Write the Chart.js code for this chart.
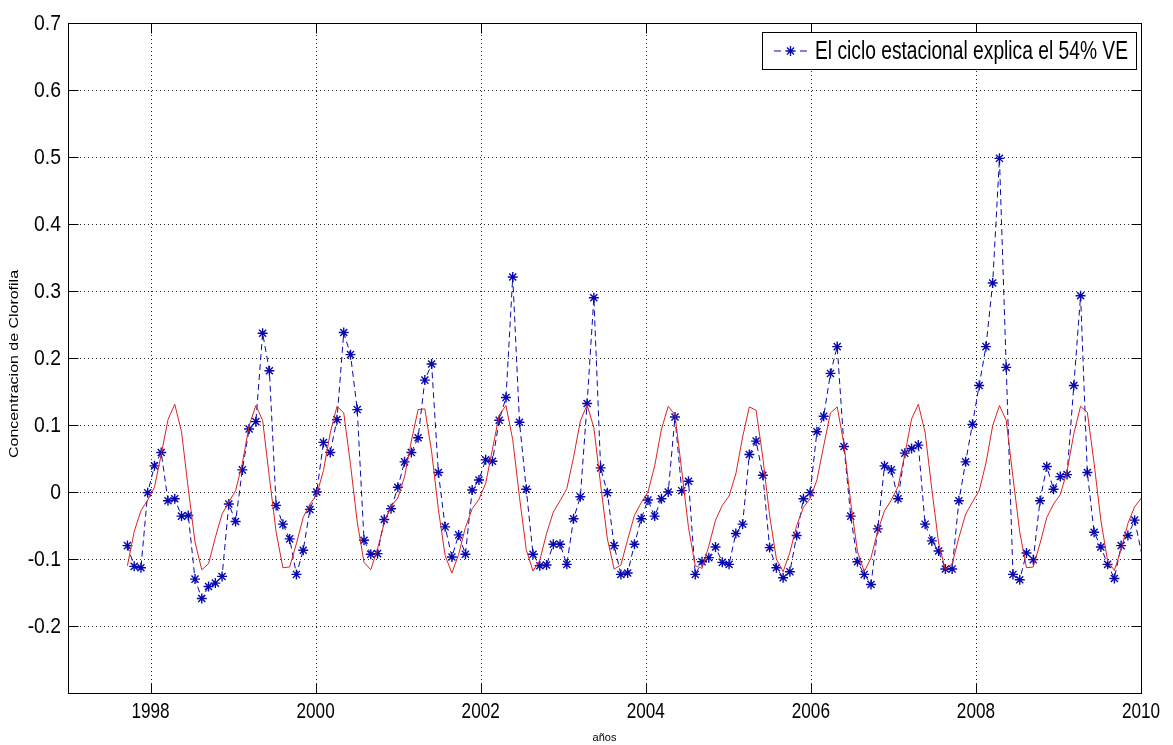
<!DOCTYPE html>
<html>
<head>
<meta charset="utf-8">
<script src="https://cdn.jsdelivr.net/npm/chart.js@4.4.0/dist/chart.umd.min.js"></script>
<style>
  html, body { margin: 0; padding: 0; background: #fff; }
</style>
</head>
<body>
<canvas id="chart" width="1173" height="745"></canvas>
<script>
// anomalia de clorofila (muestras ~mensuales desde sep-1997)
const clorofila = [
  -0.080, -0.111, -0.113, -0.001, 0.039, 0.059, -0.013, -0.010, -0.036, -0.035,
  -0.130, -0.159, -0.141, -0.136, -0.126, -0.018, -0.044, 0.033, 0.094, 0.105,
  0.237, 0.181, -0.020, -0.048, -0.070, -0.123, -0.087, -0.026, 0.000, 0.074,
  0.059, 0.108, 0.238, 0.205, 0.123, -0.072, -0.093, -0.092, -0.041, -0.025,
  0.007, 0.045, 0.059, 0.081, 0.167, 0.191, 0.029, -0.052, -0.097, -0.064,
  -0.093, 0.003, 0.018, 0.048, 0.046, 0.107, 0.141, 0.321, 0.104, 0.004,
  -0.093, -0.110, -0.109, -0.078, -0.078, -0.108, -0.040, -0.007, 0.132, 0.290,
  0.036, -0.001, -0.080, -0.123, -0.121, -0.078, -0.040, -0.012, -0.036, -0.010,
  0.000, 0.112, 0.002, 0.016, -0.123, -0.104, -0.098, -0.082, -0.105, -0.108,
  -0.062, -0.048, 0.056, 0.076, 0.025, -0.083, -0.113, -0.128, -0.119, -0.065,
  -0.010, -0.001, 0.090, 0.113, 0.177, 0.217, 0.068, -0.036, -0.104, -0.123,
  -0.138, -0.055, 0.039, 0.033, -0.010, 0.058, 0.065, 0.070, -0.048, -0.073,
  -0.088, -0.115, -0.115, -0.013, 0.045, 0.101, 0.159, 0.217, 0.312, 0.498,
  0.186, -0.123, -0.131, -0.091, -0.101, -0.013, 0.038, 0.004, 0.023, 0.026,
  0.159, 0.293, 0.029, -0.060, -0.082, -0.108, -0.129, -0.080, -0.065, -0.042,
  -0.090
];

// ciclo estacional (linea roja) en las mismas fechas
const cicloEstacional = [
  -0.110, -0.059, -0.028, -0.012, 0.007, 0.056, 0.108, 0.131, 0.090, 0.005,
  -0.075, -0.116, -0.107, -0.068, -0.033, -0.015, 0.002, 0.043, 0.099, 0.129,
  0.107, 0.022, -0.060, -0.113, -0.112, -0.077, -0.038, -0.018, -0.004, 0.032,
  0.088, 0.128, 0.118, 0.041, -0.045, -0.105, -0.116, -0.085, -0.046, -0.021,
  -0.009, 0.023, 0.076, 0.123, 0.124, 0.060, -0.026, -0.095, -0.121, -0.093,
  -0.053, -0.025, -0.011, 0.013, 0.064, 0.115, 0.129, 0.078, -0.008, -0.086,
  -0.118, -0.102, -0.062, -0.030, -0.013, 0.005, 0.052, 0.106, 0.130, 0.096,
  0.011, -0.070, -0.115, -0.109, -0.071, -0.035, -0.016, 0.000, 0.039, 0.094,
  0.128, 0.115, 0.032, -0.053, -0.110, -0.114, -0.081, -0.042, -0.020, -0.006,
  0.027, 0.082, 0.127, 0.122, 0.051, -0.035, -0.100, -0.119, -0.090, -0.050,
  -0.023, -0.010, 0.018, 0.069, 0.118, 0.127, 0.071, -0.016, -0.089, -0.119,
  -0.098, -0.058, -0.028, -0.012, 0.008, 0.056, 0.109, 0.131, 0.089, 0.004,
  -0.076, -0.116, -0.107, -0.068, -0.033, -0.015, 0.002, 0.043, 0.099, 0.129,
  0.107, 0.022, -0.060, -0.113, -0.112, -0.077, -0.038, -0.018, -0.004, 0.031,
  0.087, 0.128, 0.119, 0.043, -0.042, -0.103, -0.117, -0.086, -0.047, -0.022,
  -0.009
];

// fechas de muestreo en años decimales
const inicio = 1997.72;
const paso = 0.0819;
const tiempo = clorofila.map((_, i) => +(inicio + i * paso).toFixed(4));

const yearTicks = [1998, 2000, 2002, 2004, 2006, 2008, 2010];
const yTicks = [-0.3, -0.2, -0.1, 0, 0.1, 0.2, 0.3, 0.4, 0.5, 0.6, 0.7];
const yTickLabels = ['', '-0.2', '-0.1', '0', '0.1', '0.2', '0.3', '0.4', '0.5', '0.6', '0.7'];
const leyenda = 'El ciclo estacional explica el 54% VE';

const AZUL = '#0808b0';
const ROJO = '#dd2222';
const FONT = '"Liberation Sans", Arial, sans-serif';

// texto comprimido en horizontal (la fuente de matlab es mas estrecha)
function texto(ctx, str, x, y, size, sx, align) {
  ctx.save();
  ctx.font = size + 'px ' + FONT;
  ctx.textBaseline = 'middle';
  const w = ctx.measureText(str).width * sx;
  let x0 = x;
  if (align === 'right') x0 = x - w;
  if (align === 'center') x0 = x - w / 2;
  ctx.translate(x0, y);
  ctx.scale(sx, 1);
  ctx.textAlign = 'left';
  ctx.fillText(str, 0, 0);
  ctx.restore();
}

function ancho(ctx, str, size) {
  ctx.save();
  ctx.font = size + 'px ' + FONT;
  const w = ctx.measureText(str).width;
  ctx.restore();
  return w;
}

const ejes = {
  id: 'ejes',
  beforeDatasetsDraw(chart) {
    const { ctx, chartArea: a, scales: { x, y } } = chart;
    ctx.save();
    ctx.strokeStyle = '#222';
    ctx.lineWidth = 1;
    ctx.setLineDash([1, 3]);
    yearTicks.forEach(v => {
      const px = Math.round(x.getPixelForValue(v)) + 0.5;
      ctx.beginPath(); ctx.moveTo(px, a.top); ctx.lineTo(px, a.bottom); ctx.stroke();
    });
    yTicks.forEach(v => {
      const py = Math.round(y.getPixelForValue(v)) + 0.5;
      ctx.beginPath(); ctx.moveTo(a.left, py); ctx.lineTo(a.right, py); ctx.stroke();
    });
    ctx.restore();
  },
  afterDatasetsDraw(chart) {
    const { ctx, chartArea: a, scales: { x, y } } = chart;
    const L = Math.round(a.left) + 0.5, R = Math.round(a.right) + 0.5;
    const T = Math.round(a.top) + 0.5, B = Math.round(a.bottom) + 0.5;
    const tick = 10;
    ctx.save();
    ctx.strokeStyle = '#000';
    ctx.lineWidth = 1;
    ctx.strokeRect(L, T, R - L, B - T);
    ctx.beginPath();
    yearTicks.forEach(v => {
      const px = Math.round(x.getPixelForValue(v)) + 0.5;
      ctx.moveTo(px, B); ctx.lineTo(px, B - tick);
      ctx.moveTo(px, T); ctx.lineTo(px, T + tick);
    });
    yTicks.forEach(v => {
      const py = Math.round(y.getPixelForValue(v)) + 0.5;
      ctx.moveTo(L, py); ctx.lineTo(L + tick, py);
      ctx.moveTo(R, py); ctx.lineTo(R - tick, py);
    });
    ctx.stroke();

    ctx.fillStyle = '#000';
    yTicks.forEach((v, i) => {
      texto(ctx, yTickLabels[i], a.left - 7, y.getPixelForValue(v) + 1, 22, 0.88, 'right');
    });
    yearTicks.forEach(v => {
      texto(ctx, String(v), x.getPixelForValue(v), a.bottom + 19, 22, 0.78, 'center');
    });

    // titulos de ejes
    texto(ctx, 'años', (a.left + a.right) / 2, 738, 11, 1, 'center');
    const titulo = 'Concentracion de Clorofila';
    ctx.save();
    ctx.translate(14, 364);
    ctx.rotate(-Math.PI / 2);
    texto(ctx, titulo, 0, 0, 13, 188 / ancho(ctx, titulo, 13), 'center');
    ctx.restore();

    // leyenda
    const bx = 762.5, by = 32.5, bw = 374, bh = 37;
    ctx.fillStyle = '#fff';
    ctx.fillRect(bx, by, bw, bh);
    ctx.strokeStyle = '#000';
    ctx.strokeRect(bx, by, bw, bh);
    const ly = by + bh / 2;
    ctx.strokeStyle = AZUL;
    ctx.beginPath();
    ctx.moveTo(774, ly); ctx.lineTo(781, ly);
    ctx.moveTo(800, ly); ctx.lineTo(807, ly);
    ctx.stroke();
    const r = 5, d = r * Math.SQRT1_2;
    const sx = 790.5;
    ctx.lineWidth = 1.3;
    ctx.beginPath();
    ctx.moveTo(sx - r, ly); ctx.lineTo(sx + r, ly);
    ctx.moveTo(sx, ly - r); ctx.lineTo(sx, ly + r);
    ctx.moveTo(sx - d, ly - d); ctx.lineTo(sx + d, ly + d);
    ctx.moveTo(sx - d, ly + d); ctx.lineTo(sx + d, ly - d);
    ctx.stroke();
    ctx.fillStyle = '#000';
    texto(ctx, leyenda, 815, ly + 1, 25, 313 / ancho(ctx, leyenda, 25), 'left');
    ctx.restore();
  }
};

new Chart(document.getElementById('chart'), {
  type: 'line',
  data: {
    datasets: [
      {
        label: leyenda,
        data: tiempo.map((t, i) => ({ x: t, y: clorofila[i] })),
        borderColor: AZUL,
        borderWidth: 1,
        borderDash: [6, 4],
        pointStyle: 'star',
        pointRadius: ctx => (ctx.dataIndex === clorofila.length - 1 ? 0 : 5),
        pointBorderColor: AZUL,
        pointBackgroundColor: AZUL,
        pointBorderWidth: 1.4,
        tension: 0,
        order: 2
      },
      {
        label: 'ciclo estacional',
        data: tiempo.map((t, i) => ({ x: t, y: cicloEstacional[i] })),
        borderColor: ROJO,
        borderWidth: 1,
        pointRadius: 0,
        tension: 0,
        order: 1
      }
    ]
  },
  options: {
    responsive: false,
    animation: false,
    devicePixelRatio: 1,
    layout: { padding: { left: 68, top: 23, right: 32, bottom: 52 } },
    scales: {
      x: { type: 'linear', min: 1997, max: 2010, display: false },
      y: { type: 'linear', min: -0.3, max: 0.7, display: false }
    },
    plugins: { legend: { display: false }, tooltip: { enabled: false } }
  },
  plugins: [ejes]
});
</script>
</body>
</html>
